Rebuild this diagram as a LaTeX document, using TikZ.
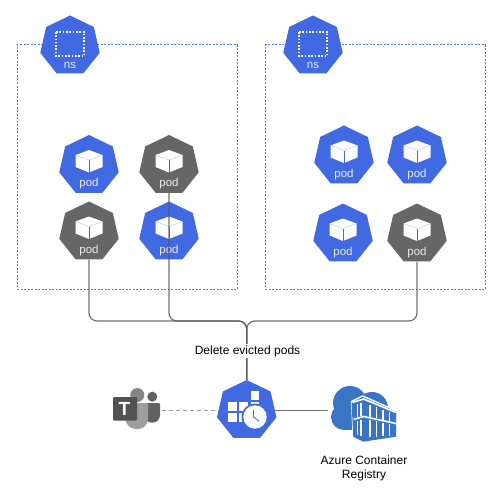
\documentclass[tikz,border=0pt]{standalone}
\usepackage{fontspec}
\setmainfont{Liberation Sans}
\usetikzlibrary{shapes.geometric}
\definecolor{kubeblue}{HTML}{4169E1}
\definecolor{kubegrey}{HTML}{666666}
\definecolor{boxblue}{HTML}{4F7FDC}
\definecolor{acrblue}{HTML}{3A75C4}
\tikzset{
  hept/.style={regular polygon,regular polygon sides=7,minimum size=61pt,inner sep=0pt,draw=none},
  podtext/.style={text=white!92!black,inner sep=0pt,font=\fontsize{11.5}{13}\selectfont},
  nsbox/.style={draw=boxblue,line width=1pt,dash pattern=on 2pt off 1.5pt,minimum width=220pt,minimum height=244pt,inner sep=0pt},
  wire/.style={draw=black!65,line width=1.2pt,opacity=0.85,rounded corners=8pt},
  holder/.style={minimum width=#1,minimum height=40pt,inner sep=0pt,draw=none},
  caption/.style={inner sep=0pt,font=\fontsize{12}{14}\selectfont,align=center}
}
\begin{document}
\begin{tikzpicture}[x=1pt,y=-1pt]
    \useasboundingbox (0,0) rectangle (501,495);
    \fill[white] (0,0) rectangle (501,495);
    % namespaces
    \node[nsbox] (boxl) at (127,167) {};
    \node[nsbox] (boxr) at (375,167) {};
    \foreach \n/\x in {l/70,r/313} {
      \node[hept,fill=kubeblue] (ns\n) at (\x,46) {};
      \draw[white,line width=1.2pt,dash pattern=on 1.6pt off 1.7pt] (\x-14,32) rectangle (\x+14,56);
      \node[podtext] (nstext\n) at (\x,65) {ns};
    }
    % pods
    \foreach \n/\x/\y/\c in {a/89/165.5/kubeblue,b/169/165.5/kubegrey,c/89/232/kubegrey,d/169/232/kubeblue,
                             e/344/156/kubeblue,f/417/156/kubeblue,g/343/234/kubeblue,h/417/234/kubegrey} {
      \node[hept,fill=\c] (pod\n) at (\x,\y) {};
      \begin{scope}[shift={(\x,\y)}]
        \fill[white] (0,-15.5) -- (13.5,-10.5) -- (13.5,1.5) -- (0,7) -- (-13.5,1.5) -- (-13.5,-10.5) -- cycle;
        \draw[\c!40,line width=0.4pt] (-13.5,-10.5) -- (0,-5.5) -- (13.5,-10.5);
        \draw[\c,line width=0.9pt] (0,-5.5) -- (0,7);
      \end{scope}
      \node[podtext] (podtext\n) at (\x,\y+18.5) {pod};
    }
    % cron job
    \node[hept,fill=kubeblue] (cron) at (246.7,410.5) {};
    \foreach \x/\y in {250.5/391,228/402,239.3/402,250.5/402,228/413,239.3/413} {
      \fill[white] (\x,\y) rectangle ++(8.7,8.7);
    }
    \fill[kubeblue] (255,417) circle[radius=13.5pt];
    \fill[white] (255,417) circle[radius=11.7pt];
    \draw[kubeblue,line width=0.8pt] (253.5,410) -- (253.5,417) -- (259,421);
    % teams
    \node[holder=50pt] (teams) at (137,410.5) {};
    \fill[black!62] (152.3,396.7) circle[radius=5pt];
    \fill[black!62,rounded corners=1pt] (144,403) -- (160,403) -- (160,414)
      .. controls (160,419) and (157,422.5) .. (152,422.5) .. controls (148,422.5) and (145,420) .. (144,416) -- cycle;
    \fill[black!48] (137.3,395) circle[radius=7pt];
    \fill[black!38,rounded corners=1pt] (125,403) -- (148,403) -- (148,418)
      .. controls (148,425) and (143,429) .. (137,429) .. controls (131,429) and (126,425) .. (125,418) -- cycle;
    \fill[black!68,rounded corners=1pt] (113,397) rectangle (137,420.5);
    \node[inner sep=0pt,text=white,font=\fontsize{19}{20}\bfseries\selectfont] (teamst) at (124.5,408.5) {T};
    % registry
    \node[holder=72pt] (acr) at (364,410.5) {};
    \fill[acrblue] (350,403) circle[radius=17pt] (372,408) circle[radius=16pt] (344,417) circle[radius=13pt];
    \fill[acrblue] (344,412) rectangle (380,430);
    \fill[acrblue,draw=white,line width=1.4pt,line join=round]
      (351.5,401.5) -- (362.7,396) -- (396,410.7) -- (396,436.7) -- (363.3,441.7) -- (353.3,436.7) -- cycle;
    \fill[acrblue] (351.5,402.3) -- (396,411.6) -- (396,436.7) -- (363.3,441.7) -- (353.3,436.7) -- cycle;
    \draw[white,line width=1.6pt] (352.5,402.5) -- (363.5,399) -- (396,412.5);
    \draw[white,line width=1.6pt] (353.5,419.5) -- (363.5,416.5) -- (396,423.5);
    \foreach \x/\a/\b/\c/\d in {357.5/404/417/421/435,361/402.5/416/419.5/436,
                                370/404.5/417.5/420/437,376.5/406.5/419/421/436.5,383/409.5/420.5/422.5/436,389.5/412/422/424/435.5} {
      \draw[white,line width=1.4pt] (\x,\a) -- (\x,\b) (\x,\c) -- (\x,\d);
    }
    % links
    \coordinate (joint) at (246.7,321);
    \foreach \n in {b,c,h} {
      \draw[wire] (pod\n.south) |- (joint) -- (cron.north);
    }
    \draw[black!38,line width=1.4pt,dash pattern=on 4pt off 3pt] (teams.east) -- (cron.west);
    \draw[black!55,line width=1.4pt] (cron.east) -- (acr.west);
    % labels
    \node[caption,fill=white,inner sep=1.5pt] (deletetext) at (247.5,351) {Delete evicted pods};
    \node[caption] (acrtext) at (364,468) {Azure Container\\Registry};
  \end{tikzpicture}
\end{document}
